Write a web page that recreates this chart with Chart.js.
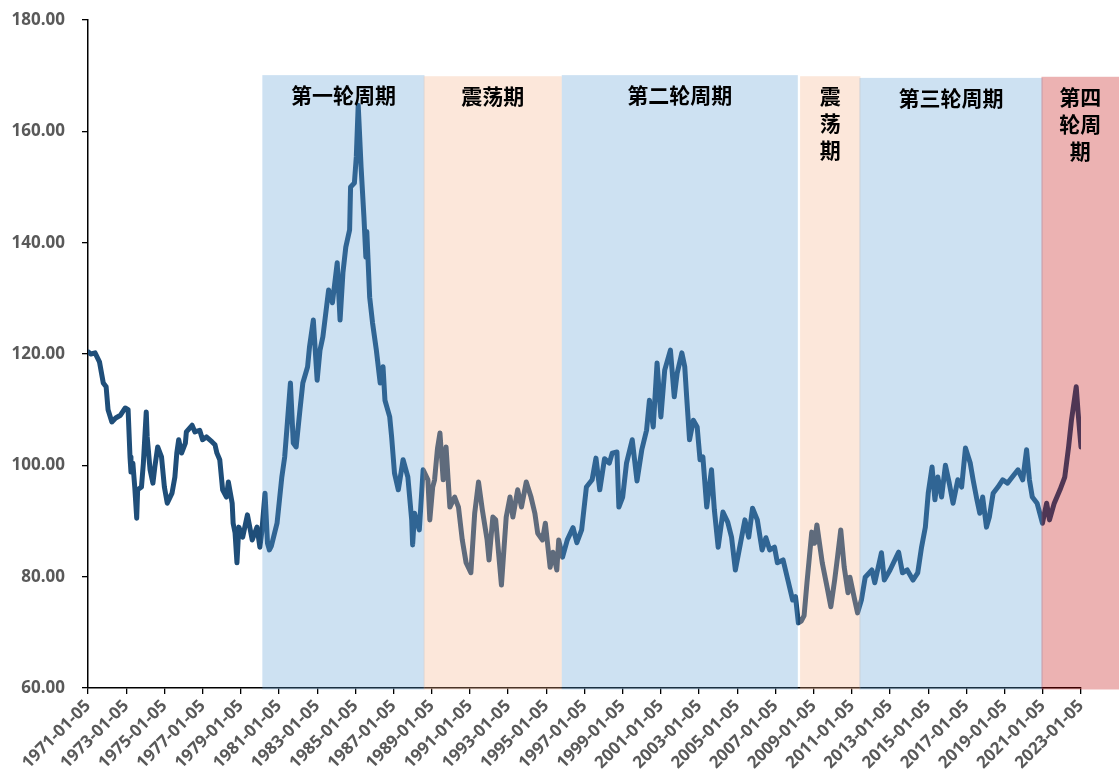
<!DOCTYPE html>
<html>
<head>
<meta charset="utf-8">
<title>美元指数周期</title>
<script src="https://cdn.jsdelivr.net/npm/chart.js@4.4.1/dist/chart.umd.min.js"></script>
<style>
    html, body { margin: 0; padding: 0; background: #ffffff; }
</style>
</head>
<body>
<canvas id="dxyChart" width="1119" height="780"></canvas>
<script>
// Dollar index (decimal years)
const years = [
    1971.00, 1971.15, 1971.37, 1971.60, 1971.80, 1971.95, 1972.05, 1972.25, 1972.45, 1972.70,
    1972.95, 1973.10, 1973.20, 1973.25, 1973.35, 1973.45, 1973.55, 1973.60, 1973.80, 1973.90,
    1974.05, 1974.10, 1974.25, 1974.40, 1974.50, 1974.65, 1974.85, 1975.00, 1975.15, 1975.40,
    1975.55, 1975.65, 1975.75, 1975.90, 1976.10, 1976.15, 1976.45, 1976.60, 1976.85, 1977.00,
    1977.20, 1977.50, 1977.65, 1977.75, 1977.90, 1978.05, 1978.25, 1978.35, 1978.55, 1978.60,
    1978.70, 1978.80, 1978.90, 1979.10, 1979.35, 1979.60, 1979.85, 1980.00, 1980.10, 1980.27,
    1980.40, 1980.50, 1980.60, 1980.90, 1981.15, 1981.30, 1981.45, 1981.60, 1981.75, 1981.90,
    1982.10, 1982.25, 1982.50, 1982.60, 1982.80, 1983.00, 1983.15, 1983.30, 1983.60, 1983.80,
    1984.05, 1984.20, 1984.35, 1984.50, 1984.70, 1984.75, 1984.95, 1985.05, 1985.15, 1985.30,
    1985.45, 1985.55, 1985.60, 1985.75, 1985.90, 1986.10, 1986.30, 1986.45, 1986.55, 1986.80,
    1986.90, 1987.05, 1987.25, 1987.50, 1987.75, 1987.95, 1988.00, 1988.10, 1988.35, 1988.55,
    1988.80, 1988.90, 1989.05, 1989.15, 1989.30, 1989.43, 1989.60, 1989.75, 1989.95, 1990.20,
    1990.40, 1990.60, 1990.80, 1991.05, 1991.25, 1991.45, 1991.65, 1991.90, 1992.00, 1992.20,
    1992.35, 1992.50, 1992.65, 1992.90, 1993.10, 1993.25, 1993.50, 1993.70, 1993.95, 1994.20,
    1994.40, 1994.55, 1994.80, 1994.95, 1995.20, 1995.35, 1995.55, 1995.65, 1995.85, 1996.10,
    1996.40, 1996.60, 1996.85, 1997.10, 1997.40, 1997.60, 1997.80, 1998.05, 1998.30, 1998.45,
    1998.70, 1998.80, 1999.00, 1999.20, 1999.50, 1999.75, 2000.00, 2000.25, 2000.40, 2000.60,
    2000.80, 2001.00, 2001.20, 2001.50, 2001.70, 2001.85, 2002.10, 2002.25, 2002.35, 2002.50,
    2002.70, 2002.90, 2003.05, 2003.20, 2003.40, 2003.65, 2003.80, 2004.00, 2004.25, 2004.50,
    2004.70, 2004.90, 2005.10, 2005.40, 2005.60, 2005.80, 2006.05, 2006.30, 2006.50, 2006.70,
    2006.95, 2007.10, 2007.40, 2007.65, 2007.90, 2008.05, 2008.20, 2008.35, 2008.50, 2008.65,
    2008.90, 2009.05, 2009.17, 2009.45, 2009.70, 2009.90, 2010.10, 2010.25, 2010.42, 2010.60,
    2010.80, 2010.90, 2011.15, 2011.30, 2011.50, 2011.70, 2012.05, 2012.20, 2012.55, 2012.70,
    2013.00, 2013.25, 2013.45, 2013.65, 2013.90, 2014.20, 2014.45, 2014.65, 2014.85, 2015.00,
    2015.20, 2015.35, 2015.50, 2015.70, 2015.90, 2016.10, 2016.30, 2016.55, 2016.75, 2016.95,
    2017.20, 2017.35, 2017.55, 2017.70, 2017.85, 2018.05, 2018.20, 2018.40, 2018.65, 2018.90,
    2019.15, 2019.40, 2019.70, 2019.95, 2020.15, 2020.30, 2020.45, 2020.70, 2020.98, 2021.20,
    2021.35, 2021.60, 2021.90, 2022.15, 2022.35, 2022.50, 2022.75, 2022.85, 2023.00
];

const dxy = [
    120.4, 120.0, 120.2, 118.6, 114.8, 114.1, 110.0, 107.8, 108.5, 109.0,
    110.3, 110.0, 101.5, 98.8, 100.4, 96.0, 90.5, 95.6, 96.1, 100.4,
    109.6, 105.1, 99.2, 96.8, 99.7, 103.3, 101.5, 96.1, 93.2, 95.0,
    97.9, 102.2, 104.6, 102.2, 104.0, 106.0, 107.2, 106.0, 106.3, 104.6,
    105.1, 104.2, 103.7, 102.2, 101.0, 95.6, 94.3, 97.0, 93.2, 89.6,
    87.9, 82.5, 88.9, 87.1, 91.1, 86.6, 88.9, 85.3, 88.0, 95.0,
    86.0, 84.8, 85.5, 89.6, 97.9, 101.5, 108.1, 114.8, 104.0, 103.3,
    110.0, 114.8, 117.7, 121.3, 126.1, 115.3, 120.7, 123.1, 131.5, 129.2,
    136.4, 126.1, 134.6, 139.2, 142.3, 150.0, 150.7, 155.4, 164.7, 153.6,
    144.6, 137.4, 142.0, 130.2, 125.6, 120.7, 114.8, 117.7, 111.7, 108.7,
    105.1, 98.6, 95.6, 101.0, 97.9, 90.2, 85.7, 91.4, 88.4, 99.2,
    97.4, 90.2, 96.1, 97.4, 103.0, 105.8, 97.4, 103.3, 92.5, 94.3,
    92.5, 86.6, 82.5, 80.7, 91.4, 97.0, 92.0, 86.6, 83.0, 90.7,
    90.2, 84.3, 78.5, 90.7, 94.3, 90.7, 95.6, 92.5, 97.0, 94.3,
    91.4, 87.8, 86.6, 89.6, 81.7, 84.4, 81.2, 86.6, 83.5, 86.6,
    88.8, 86.1, 88.4, 96.1, 97.4, 101.3, 95.6, 101.2, 100.4, 102.2,
    102.4, 92.5, 94.3, 100.4, 104.6, 97.2, 102.8, 106.3, 111.7, 106.9,
    118.4, 108.7, 117.1, 120.7, 112.3, 116.5, 120.2, 117.7, 112.3, 104.6,
    108.1, 106.9, 101.0, 101.5, 92.5, 99.2, 92.0, 85.3, 91.6, 89.8,
    87.1, 81.2, 84.8, 90.2, 87.1, 92.3, 90.2, 84.8, 87.0, 84.8,
    85.3, 82.5, 83.0, 79.4, 75.8, 76.4, 71.7, 72.0, 73.0, 78.9,
    88.0, 86.0, 89.3, 82.5, 78.2, 74.6, 79.4, 83.5, 88.4, 81.7,
    77.1, 79.9, 75.8, 73.5, 75.8, 79.9, 81.2, 78.9, 84.3, 79.4,
    81.2, 83.0, 84.4, 80.7, 81.2, 79.4, 80.7, 85.3, 88.9, 95.0,
    99.7, 93.8, 97.9, 94.3, 100.0, 96.8, 93.2, 97.4, 96.1, 103.1,
    100.4, 97.4, 93.8, 91.4, 94.3, 88.9, 90.7, 95.0, 96.1, 97.4,
    96.8, 97.9, 99.2, 97.4, 102.8, 97.4, 94.3, 93.2, 89.6, 93.2,
    90.2, 93.2, 95.6, 97.9, 103.3, 108.1, 114.1, 109.4, 103.3
];

const tickLabels = [
    '1971-01-05', '1973-01-05', '1975-01-05', '1977-01-05', '1979-01-05',
    '1981-01-05', '1983-01-05', '1985-01-05', '1987-01-05', '1989-01-05',
    '1991-01-05', '1993-01-05', '1995-01-05', '1997-01-05', '1999-01-05',
    '2001-01-05', '2003-01-05', '2005-01-05', '2007-01-05', '2009-01-05',
    '2011-01-05', '2013-01-05', '2015-01-05', '2017-01-05', '2019-01-05',
    '2021-01-05', '2023-01-05'
];

// Shaded periods
const periodNames = ['第一轮周期', '震荡期', '第二轮周期', '震\n荡\n期', '第三轮周期', '第四\n轮周\n期'];
const periodStart = [1980.13, 1988.58, 1995.81, 2008.29, 2011.40, 2020.93];
const periodEnd = [1988.62, 1995.81, 2008.17, 2011.45, 2020.99, 2025.00];
const periodTop = [170.1, 169.9, 170.1, 169.9, 169.6, 169.8];
const periodFill = [
    'rgba(91, 155, 213, 0.3)',
    'rgba(244, 177, 131, 0.3)',
    'rgba(91, 155, 213, 0.3)',
    'rgba(244, 177, 131, 0.3)',
    'rgba(91, 155, 213, 0.3)',
    'rgba(192, 0, 0, 0.3)'
];

const tickYears = tickLabels.map(s => parseInt(s.slice(0, 4), 10));

// Boxes are laid over the line (semi-transparent), labels on top
const periodShading = {
    id: 'periodShading',
    afterDraw(chart) {
        const { ctx, scales: { x, y } } = chart;
        const bottom = y.getPixelForValue(60) + 1.5;
        ctx.save();
        periodNames.forEach((name, i) => {
            const left = x.getPixelForValue(periodStart[i]);
            const right = x.getPixelForValue(periodEnd[i]);
            const top = y.getPixelForValue(periodTop[i]);
            ctx.fillStyle = periodFill[i];
            ctx.fillRect(left, top, right - left, bottom - top);

            ctx.fillStyle = '#000000';
            ctx.font = 'bold 21px "Noto Sans CJK SC", sans-serif';
            ctx.textAlign = 'center';
            ctx.textBaseline = 'middle';
            name.split('\n').forEach((line, j) => {
                ctx.fillText(line, (left + right) / 2, top + 20 + j * 27);
            });
        });
        ctx.restore();
    }
};

const tickFont = { family: '"Open Sans", sans-serif', size: 17, weight: 'bold' };

new Chart(document.getElementById('dxyChart').getContext('2d'), {
    type: 'line',
    data: {
        datasets: [{
            label: '美元指数',
            data: years.map((t, i) => ({ x: t, y: dxy[i] })),
            borderColor: '#1F4E79',
            borderWidth: 5,
            borderJoinStyle: 'round',
            borderCapStyle: 'round',
            pointRadius: 0,
            tension: 0,
            fill: false
        }]
    },
    options: {
        responsive: false,
        animation: false,
        devicePixelRatio: 1,
        layout: { padding: { top: 20, right: 38, left: 0, bottom: 0 } },
        plugins: {
            legend: { display: false },
            tooltip: { enabled: false }
        },
        scales: {
            x: {
                type: 'linear',
                min: 1971,
                max: 2023,
                afterBuildTicks: scale => {
                    scale.ticks = tickYears.map(v => ({ value: v }));
                },
                afterFit: scale => { scale.height = 92; },
                ticks: {
                    autoSkip: false,
                    maxRotation: 45,
                    minRotation: 45,
                    padding: 2,
                    color: '#595959',
                    font: tickFont,
                    callback: (value) => tickLabels[tickYears.indexOf(value)]
                },
                grid: {
                    display: true,
                    drawOnChartArea: false,
                    drawTicks: true,
                    tickLength: 6,
                    color: '#000000',
                    lineWidth: 1.3
                },
                border: { display: true, color: '#000000', width: 1.5 }
            },
            y: {
                min: 60,
                max: 180,
                afterFit: scale => {
                    scale.width = 88;
                    scale.paddingTop = 0;
                    scale.paddingBottom = 0;
                },
                ticks: {
                    stepSize: 20,
                    padding: 17,
                    color: '#595959',
                    font: tickFont,
                    callback: (value) => value.toFixed(2)
                },
                grid: {
                    display: true,
                    drawOnChartArea: false,
                    drawTicks: true,
                    tickLength: 6,
                    color: '#000000',
                    lineWidth: 1.3
                },
                border: { display: true, color: '#000000', width: 1.5 }
            }
        }
    },
    plugins: [periodShading]
});
</script>
</body>
</html>
